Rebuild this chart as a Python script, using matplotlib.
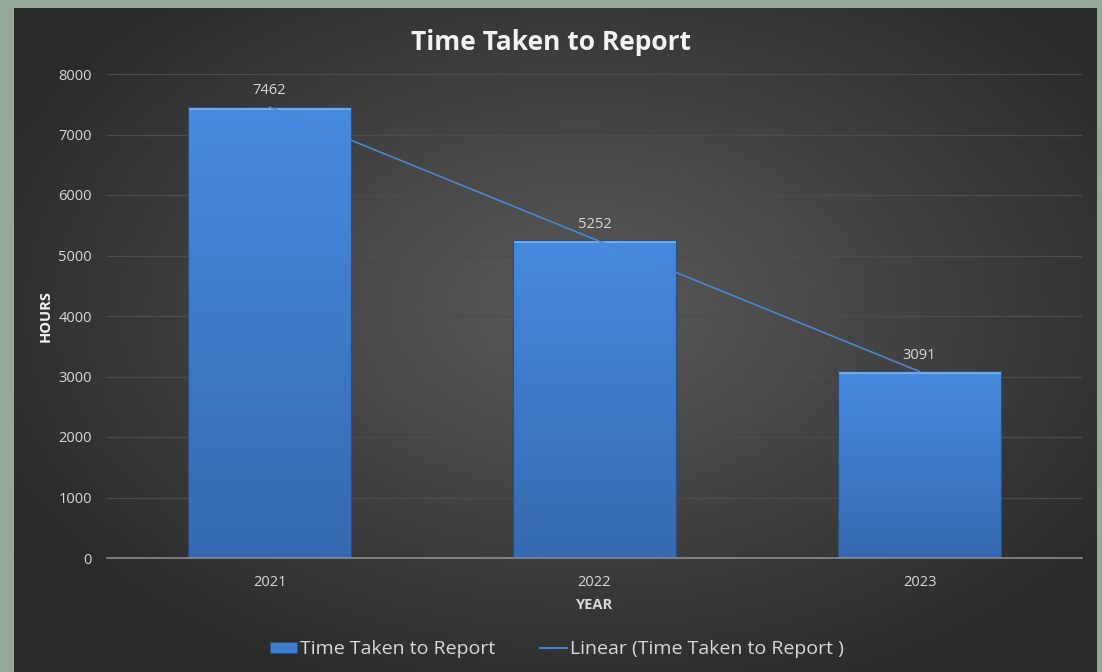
import numpy as np
import matplotlib
matplotlib.use("Agg")
import matplotlib.pyplot as plt
from matplotlib.patches import Patch, Rectangle
from matplotlib.lines import Line2D

years = ["2021", "2022", "2023"]
hours = [7462, 5252, 3091]
yticks = [0, 1000, 2000, 3000, 4000, 5000, 6000, 7000, 8000]

plt.rcParams['font.family'] = ['Open Sans', 'DejaVu Sans']

W, H = 1102, 672
fig = plt.figure(figsize=(W / 100, H / 100), dpi=100)
fig.patch.set_facecolor('#96a898')

# dark panel with radial gradient
px0, px1, py0, py1 = 14, 1097, 8, 672
bg = fig.add_axes([px0 / W, 1 - py1 / H, (px1 - px0) / W, (py1 - py0) / H])
bg.set_axis_off()
gx = np.linspace(-1, 1, 400)
gy = np.linspace(-1, 1, 250)
XX, YY = np.meshgrid(gx, gy)
R = np.sqrt((XX - 0.05) ** 2 + ((YY + 0.1) * 0.95) ** 2)
R = np.clip(R / 1.2, 0, 1)
c_in = np.array([0x5a, 0x5a, 0x5a]) / 255
c_out = np.array([0x2a, 0x2a, 0x2a]) / 255
img = c_in[None, None, :] * (1 - R[..., None]) + c_out[None, None, :] * R[..., None]
bg.imshow(img, aspect='auto', extent=[0, 1, 0, 1], interpolation='bilinear')
bg.set_xlim(0, 1)
bg.set_ylim(0, 1)

ax = fig.add_axes([107 / W, 1 - 558 / H, 975 / W, 484 / H])
ax.set_facecolor('none')
x = np.arange(len(years))
bars = ax.bar(x, hours, width=0.5, color='#3f7dd0', edgecolor='#2a4f86', linewidth=0.8, zorder=3)

# gradient overlay on bars
grad = np.linspace(0, 1, 256)[:, None]
cols_top = np.array([0x47, 0x8a, 0xdf]) / 255
cols_bot = np.array([0x36, 0x69, 0xb0]) / 255
gimg = cols_top[None, None, :] * (1 - grad[..., None]) + cols_bot[None, None, :] * grad[..., None]
gimg = np.repeat(gimg, 2, axis=1)
for b in bars:
    x0 = b.get_x(); w = b.get_width(); h = b.get_height()
    im = ax.imshow(gimg, extent=[x0, x0 + w, 0, h], aspect='auto', zorder=3.5, origin='upper')
    im.set_clip_path(b)
    # top bevel highlight
    ax.add_patch(Rectangle((x0, h - 50), w, 50, facecolor='#72aef2', edgecolor='none', zorder=3.6))
    ax.add_patch(Rectangle((x0, 0), w, h, facecolor='none', edgecolor='#2a4f86', linewidth=0.8, zorder=3.7))

# linear trend line
coef = np.polyfit(x, hours, 1)
xt = np.array([x[0], x[-1]])
ax.plot(xt, np.polyval(coef, xt), color='#4a86cc', linewidth=1.2, zorder=4)

for xi, v in zip(x, hours):
    ax.text(xi, v + 140, str(v), ha='center', va='bottom', color='#d9d9d9', fontsize=10.5, zorder=5)

ax.set_xlim(-0.5, 2.5)
ax.set_ylim(0, 8000)
ax.set_yticks(yticks)
ax.set_yticklabels([str(t) for t in yticks])
ax.set_xticks(x)
ax.set_xticklabels(years)
ax.tick_params(axis='both', length=0, colors='#d9d9d9', labelsize=10.5)
ax.tick_params(axis='y', pad=11)
ax.tick_params(axis='x', pad=12)
ax.grid(axis='y', color='#4c4c4c', linewidth=0.9, zorder=0)
ax.set_axisbelow(True)
for s in ['top', 'right', 'left']:
    ax.spines[s].set_visible(False)
ax.spines['bottom'].set_color('#8a8a8a')
ax.spines['bottom'].set_linewidth(1.2)
ax.spines['bottom'].set_zorder(6)

ax.set_ylabel('HOURS', color='#f2f2f2', fontsize=10.5, fontweight='bold', labelpad=4)
ax.set_xlabel('YEAR', color='#d9d9d9', fontsize=10.5, fontweight='bold', labelpad=6)

fig.text(551 / W, 1 - 42 / H, 'Time Taken to Report', ha='center', va='center',
         color='#f2f2f2', fontsize=19, fontweight='bold')

handles = [Patch(facecolor='#3f7dd0', edgecolor='#2a4f86', linewidth=0.8),
           Line2D([0], [0], color='#4a86cc', linewidth=1.5)]
labels = ['Time Taken to Report', 'Linear (Time Taken to Report )']
leg = fig.legend(handles, labels, loc='center', bbox_to_anchor=(557 / W, 1 - 649 / H), ncol=2,
                 frameon=False, fontsize=14, labelcolor='#d9d9d9', handlelength=1.4,
                 handletextpad=0.15, columnspacing=2.3, handleheight=0.5)

fig.savefig('out.png', dpi=100, facecolor=fig.get_facecolor())
